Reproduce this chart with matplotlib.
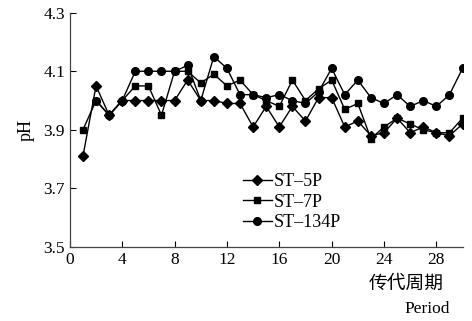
import matplotlib
matplotlib.use('Agg')
import matplotlib.pyplot as plt
import numpy as np

period = np.arange(1, 31)
st5p = [3.81, 4.05, 3.95, 4.00, 4.00, 4.00, 4.00, 4.00, 4.07, 4.00,
        4.00, 3.99, 3.99, 3.91, 3.98, 3.91, 3.98, 3.93, 4.01, 4.01,
        3.91, 3.93, 3.88, 3.89, 3.94, 3.89, 3.91, 3.89, 3.88, 3.92]
st7p = [3.90, 4.00, 3.95, 4.00, 4.05, 4.05, 3.95, 4.10, 4.10, 4.06,
        4.09, 4.05, 4.07, 4.02, 4.00, 3.98, 4.07, 4.00, 4.04, 4.07,
        3.97, 3.99, 3.87, 3.91, 3.94, 3.92, 3.90, 3.89, 3.89, 3.94]
# ST-134P has no visible point at period 1
st134p = [np.nan, 4.00, 3.95, 4.00, 4.10, 4.10, 4.10, 4.10, 4.12, 4.00,
          4.15, 4.11, 4.02, 4.02, 4.01, 4.02, 4.00, 3.99, 4.03, 4.11,
          4.02, 4.07, 4.01, 3.99, 4.02, 3.98, 4.00, 3.98, 4.02, 4.11]
labels = ['ST\u20135P', 'ST\u20137P', 'ST\u2013134P']
xticks = [0, 4, 8, 12, 16, 20, 24, 28]
yticks = [3.5, 3.7, 3.9, 4.1, 4.3]

plt.rcParams['font.family'] = ['Liberation Serif', 'DejaVu Serif']

fig = plt.figure(figsize=(4.72, 3.21), dpi=100)
ax = fig.add_axes([0.148, 0.2305, 0.832, 0.73])

ax.plot(period, st5p, marker='D', ms=5, c='black', lw=1, label=labels[0])
ax.plot(period, st7p, marker='s', ms=5, c='black', lw=1, label=labels[1])
ax.plot(period, st134p, marker='o', ms=5.5, c='black', lw=1, label=labels[2])

ax.set_xlim(0, 30)
ax.set_ylim(3.5, 4.3)
ax.set_xticks(xticks)
ax.set_yticks(yticks)
ax.set_yticklabels(['%.1f' % v for v in yticks])
ax.tick_params(direction='in', length=4, width=0.8, labelsize=12.5, colors='black')
for s in ['top', 'right']:
    ax.spines[s].set_visible(False)
for s in ['left', 'bottom']:
    ax.spines[s].set_color('#444444')
    ax.spines[s].set_linewidth(0.9)

ax.set_ylabel('pH', fontsize=13, labelpad=6)

fig.text(0.86, 0.118, '传代周期', fontsize=13.5, ha='center', va='center',
         family=['Noto Sans CJK SC', 'DejaVu Sans'])
fig.text(0.905, 0.037, 'Period', fontsize=12.5, ha='center', va='center')

ax.legend(loc='upper left', bbox_to_anchor=(0.44, 0.315), frameon=False,
          fontsize=13, handlelength=1.6, handletextpad=0.15,
          labelspacing=0.2, borderpad=0, borderaxespad=0)

fig.savefig('out.png', dpi=100)
